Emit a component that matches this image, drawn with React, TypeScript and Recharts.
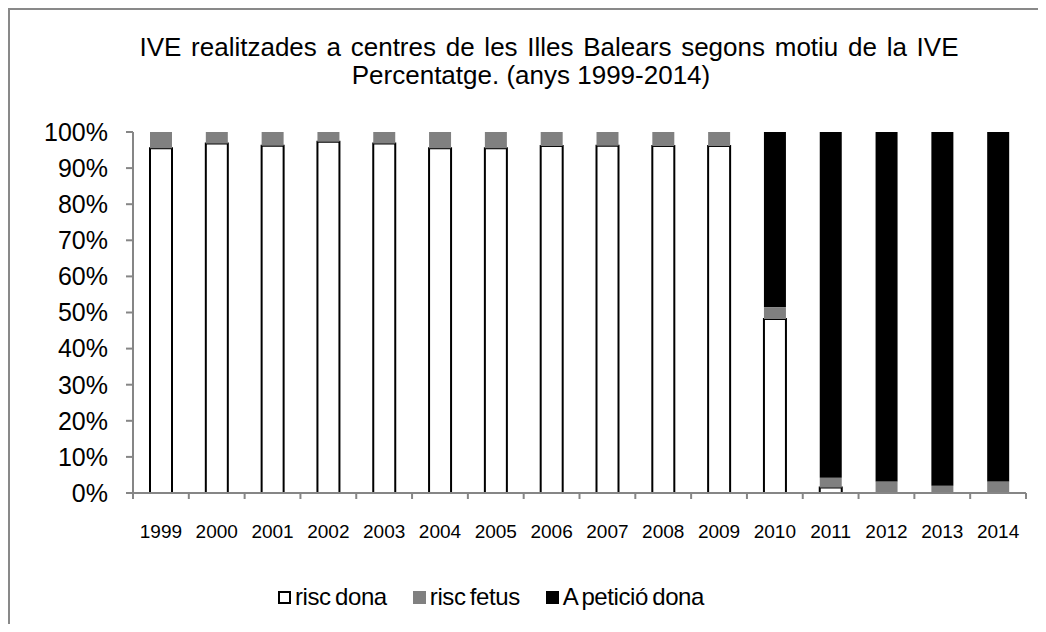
import React from 'react';
import { BarChart, Bar, XAxis, YAxis, Legend } from 'recharts';

const years = ['1999', '2000', '2001', '2002', '2003', '2004', '2005', '2006', '2007', '2008', '2009', '2010', '2011', '2012', '2013', '2014'];
const riscDona = [95.5, 96.8, 96.2, 97.3, 96.8, 95.5, 95.5, 96.1, 96.2, 96.1, 96.1, 48.2, 1.5, 0, 0, 0];
const riscFetus = [4.5, 3.2, 3.8, 2.7, 3.2, 4.5, 4.5, 3.9, 3.8, 3.9, 3.9, 3.3, 2.7, 3.2, 2.0, 3.2];
const peticioDona = [0, 0, 0, 0, 0, 0, 0, 0, 0, 0, 0, 48.5, 95.8, 96.8, 98.0, 96.8];
const yTicks = [0, 10, 20, 30, 40, 50, 60, 70, 80, 90, 100];
const seriesNames = ['risc dona', 'risc fetus', 'A petició dona'];
const titleLines = ['IVE realitzades a centres de les Illes Balears segons motiu de la IVE', 'Percentatge. (anys 1999-2014)'];

const data = years.map((y, i) => ({
  year: y,
  dona: riscDona[i],
  fetus: riscFetus[i],
  peticio: peticioDona[i],
}));

const FONT = '"Liberation Sans", Arial, sans-serif';
const CHART_W = 1028;
const CHART_H = 614;
const YW = 110;
const M = { top: 122, right: 12, left: 13, bottom: 61 };
const HALF = (CHART_W - M.left - M.right - YW) / years.length / 2;
const GRAY = '#868686';

const XTick = (props: any) => {
  const { x, y, payload } = props;
  const isLast = payload.value === years[years.length - 1];
  return (
    <g>
      <line x1={x - HALF} x2={x - HALF} y1={y} y2={y + 6} stroke={GRAY} strokeWidth={2} />
      {isLast && <line x1={x + HALF} x2={x + HALF} y1={y} y2={y + 6} stroke={GRAY} strokeWidth={2} />}
      <text x={x} y={y + 45} textAnchor="middle" fontSize={19} fill="#000" fontFamily={FONT}>
        {payload.value}
      </text>
    </g>
  );
};

const legendItems = [
  { name: seriesNames[0], fill: '#fff', border: '2px solid #000' },
  { name: seriesNames[1], fill: '#808080', border: 'none' },
  { name: seriesNames[2], fill: '#000', border: 'none' },
];

const renderLegend = () => (
  <div style={{ display: 'flex', alignItems: 'center', height: 30, fontFamily: FONT, fontSize: 24, lineHeight: '30px', letterSpacing: '-0.4px', wordSpacing: '-2px', color: '#000', whiteSpace: 'nowrap' }}>
    {legendItems.map((it, i) => (
      <div key={it.name} style={{ display: 'flex', alignItems: 'center', marginRight: i < 2 ? 26 : 0 }}>
        <div style={{ width: 13, height: 13, boxSizing: 'border-box', background: it.fill, border: it.border, marginRight: 4 }} />
        <span>{it.name}</span>
      </div>
    ))}
  </div>
);

export default function App() {
  return (
    <div style={{ position: 'relative', width: CHART_W, height: CHART_H, borderLeft: '2px solid #898989', borderTop: '2px solid #898989', fontFamily: FONT, background: '#fff' }}>
      <div style={{ position: 'absolute', left: 39, width: 1000, top: 24, textAlign: 'center', fontSize: 26, lineHeight: '26px', wordSpacing: '2.5px', color: '#000', whiteSpace: 'nowrap' }}>
        {titleLines[0]}
      </div>
      <div style={{ position: 'absolute', left: 21, width: 1000, top: 52, textAlign: 'center', fontSize: 26, lineHeight: '26px', color: '#000', whiteSpace: 'nowrap' }}>
        {titleLines[1]}
      </div>
      <BarChart width={CHART_W} height={CHART_H} data={data} margin={M} barSize={22}>
        <XAxis
          dataKey="year"
          interval={0}
          height={40}
          tickSize={0}
          tickMargin={0}
          tickLine={false}
          tick={<XTick />}
          axisLine={{ stroke: GRAY, strokeWidth: 2 }}
        />
        <YAxis
          width={YW}
          domain={[0, 100]}
          ticks={yTicks}
          interval={0}
          tickFormatter={(v: number) => `${v}%`}
          tickSize={7}
          tickMargin={18}
          tick={{ fontSize: 25, fill: '#000', fontFamily: FONT }}
          tickLine={{ stroke: GRAY, strokeWidth: 2 }}
          axisLine={{ stroke: GRAY, strokeWidth: 2 }}
          allowDataOverflow
        />
        <Legend
          verticalAlign="bottom"
          content={renderLegend}
          wrapperStyle={{ left: 268, top: 572, bottom: 'auto', width: 'auto', height: 30 }}
        />
        <Bar dataKey="dona" name={seriesNames[0]} stackId="a" fill="#fff" stroke="#000" strokeWidth={2} isAnimationActive={false} />
        <Bar dataKey="fetus" name={seriesNames[1]} stackId="a" fill="#808080" isAnimationActive={false} />
        <Bar dataKey="peticio" name={seriesNames[2]} stackId="a" fill="#000" isAnimationActive={false} />
      </BarChart>
    </div>
  );
}
